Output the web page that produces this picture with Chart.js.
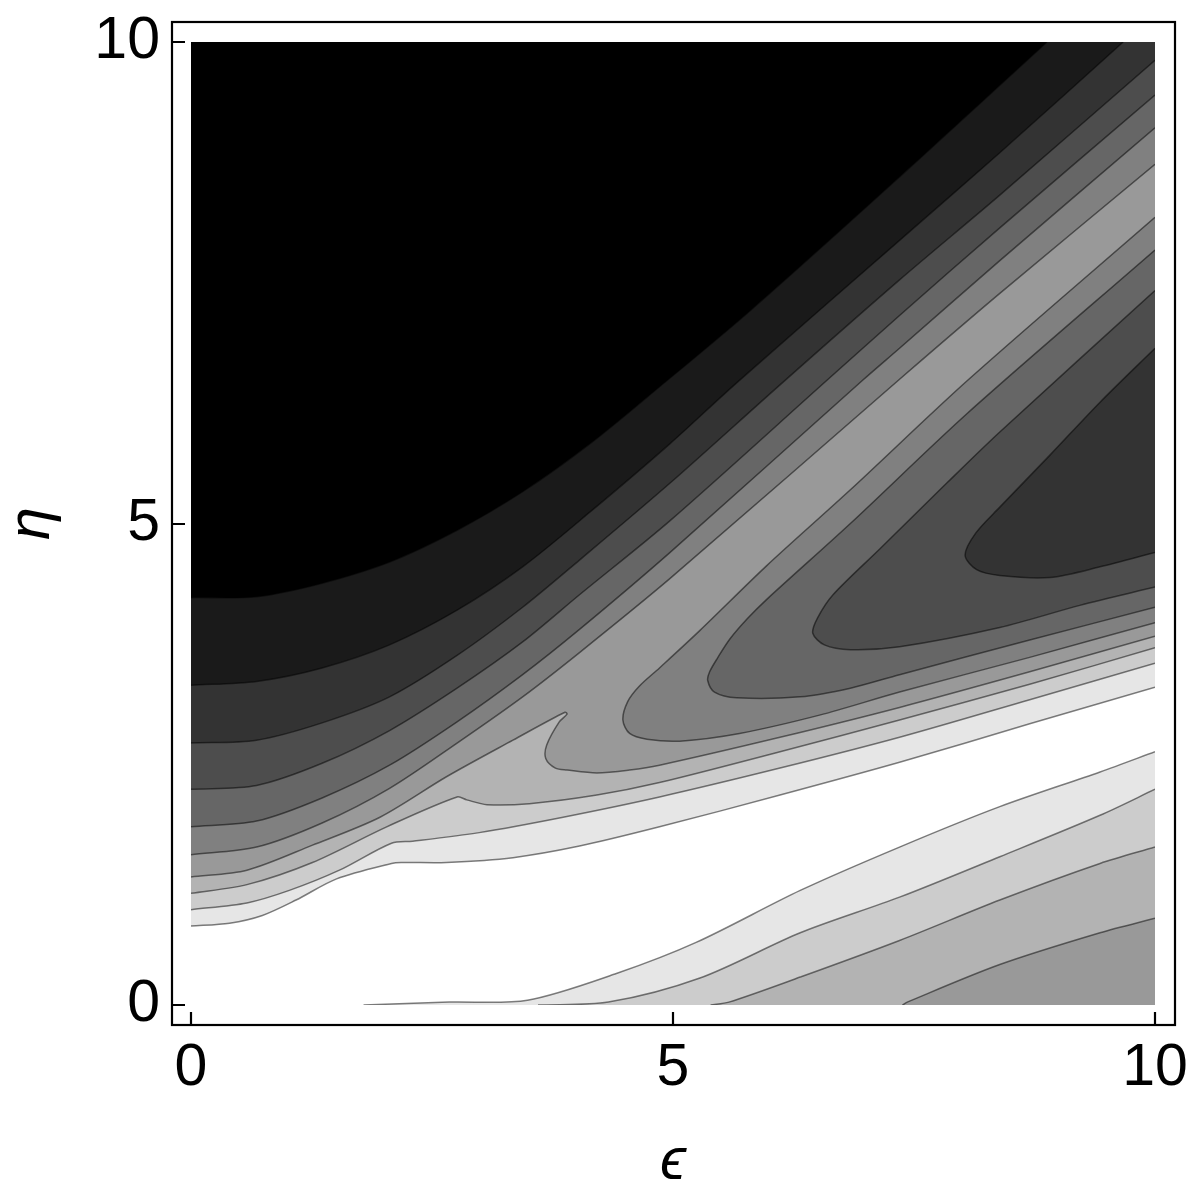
<!DOCTYPE html>
<html>
<head>
<meta charset="utf-8">
<script src="https://cdn.jsdelivr.net/npm/chart.js@4.4.1/dist/chart.umd.min.js"></script>
<style>
html,body{margin:0;padding:0;background:#fff;}
#wrap{width:1202px;height:1196px;}
</style>
</head>
<body>
<div id="wrap"><canvas id="c" width="1202" height="1196"></canvas></div>
<script>
// ---------- axis data ----------
const xTicks = [0, 5, 10];
const yTicks = [0, 5, 10];
const xTitle = 'ϵ';
const yTitle = 'η';
const xRange = [0, 10];
const yRange = [0, 10];

// ---------- contour lines (ε, η) ----------
// upper family: level k contour, region above/left of it has value > c_k
const L1 = [[0,0.82],[0.40,0.85],[0.74,0.93],[1.09,1.09],[1.51,1.31],[2.08,1.47],[2.18,1.48],[2.65,1.48],[3.34,1.53],[4.03,1.65],[4.86,1.85],[6.11,2.18],[7.35,2.52],[8.70,2.92],[10,3.30]];
const L2 = [[0,0.99],[0.58,1.06],[1.02,1.19],[1.54,1.40],[2.08,1.68],[2.30,1.70],[2.99,1.79],[3.86,1.95],[4.86,2.16],[6.11,2.46],[7.35,2.78],[8.70,3.17],[10,3.55]];
const L3 = [[0,1.16],[0.58,1.25],[1.26,1.48],[2.03,1.85],[2.76,2.16],[2.86,2.13],[3.07,2.08],[3.51,2.09],[4.21,2.18],[4.86,2.31],[6.11,2.63],[7.35,2.96],[8.70,3.33],[10,3.71]];
const L4 = [[0,1.33],[0.58,1.40],[1.26,1.66],[1.96,1.95],[2.65,2.37],[3.34,2.75],[3.88,3.04],[3.90,3.02],[3.82,2.94],[3.69,2.70],[3.68,2.56],[3.78,2.46],[3.90,2.44],[4.21,2.41],[4.55,2.44],[4.86,2.49],[6.11,2.78],[7.35,3.09],[8.70,3.46],[10,3.83]];
const L5 = [[0,1.56],[0.68,1.64],[1.36,1.89],[2.06,2.25],[2.76,2.72],[3.44,3.20],[4.03,3.66],[4.97,4.43],[7.41,6.55],[8.39,7.39],[10,8.73]];
const L6 = [[0,1.85],[0.68,1.91],[1.36,2.15],[2.06,2.49],[2.76,2.94],[3.44,3.43],[4.03,3.90],[4.97,4.70],[6.97,6.49],[7.35,6.82],[8.39,7.73],[10,9.11]];
const L7 = [[0,2.24],[0.68,2.28],[1.36,2.51],[2.06,2.85],[2.76,3.29],[3.44,3.77],[4.03,4.26],[4.97,5.03],[6.60,6.49],[7.35,7.16],[8.39,8.07],[10,9.45]];
const L8 = [[0,2.72],[0.68,2.75],[1.36,2.93],[2.06,3.20],[2.76,3.63],[3.44,4.13],[4.03,4.62],[4.97,5.42],[6.11,6.44],[7.35,7.53],[8.39,8.41],[10,9.81]];
const L9 = [[0,3.32],[0.68,3.36],[1.36,3.50],[2.06,3.74],[2.76,4.10],[3.44,4.55],[4.14,5.12],[4.97,5.83],[5.66,6.46],[7.35,7.94],[8.39,8.85],[9.67,10]];
const L10 = [[0,4.23],[0.68,4.24],[1.36,4.38],[2.06,4.60],[2.76,4.93],[3.44,5.33],[4.14,5.83],[4.86,6.42],[5.80,7.21],[7.35,8.60],[8.88,10]];

// lower-right family: region below the line has value > c_k
const B1 = [[1.79,0],[2.68,0.03],[3.49,0.05],[4.42,0.33],[5.24,0.65],[6.32,1.19],[7.35,1.64],[8.39,2.06],[9.43,2.42],[10,2.63]];
const B2 = [[3.60,0],[4.33,0.03],[5.28,0.28],[6.32,0.75],[7.35,1.12],[8.39,1.54],[9.43,1.97],[10,2.24]];
const B3 = [[5.39,0],[5.58,0.03],[6.32,0.29],[7.35,0.67],[8.39,1.09],[9.43,1.47],[10,1.64]];
const B4 = [[7.38,0],[7.43,0.03],[8.39,0.42],[9.43,0.75],[10,0.90]];

// right-side pockets (V shapes opening to the right): inside has value > c_k
const V5 = [[10,8.18],[8.06,6.49],[6.84,5.35],[5.97,4.56],[5.28,3.89],[4.86,3.50],[4.65,3.31],[4.53,3.15],[4.48,2.96],[4.55,2.82],[4.73,2.76],[5.07,2.74],[5.69,2.82],[6.52,3.01],[7.35,3.25],[8.70,3.61],[10,3.97]];
const V6 = [[10,7.84],[8.06,6.15],[6.84,5.00],[5.97,4.21],[5.77,4.01],[5.59,3.80],[5.46,3.60],[5.38,3.46],[5.36,3.37],[5.43,3.25],[5.66,3.19],[6.32,3.20],[6.84,3.29],[7.35,3.43],[8.70,3.79],[10,4.13]];
const V7 = [[10,7.42],[8.39,5.95],[7.84,5.42],[7.15,4.74],[6.66,4.26],[6.50,4.02],[6.45,3.86],[6.57,3.74],[6.84,3.69],[7.35,3.72],[8.39,3.92],[9.22,4.15],[10,4.34]];
const V8 = [[10,6.82],[9.43,6.26],[8.91,5.71],[8.39,5.17],[8.14,4.90],[8.03,4.67],[8.15,4.52],[8.39,4.46],[8.91,4.44],[9.43,4.55],[10,4.70]];

const upperLevels = [L1, L2, L3, L4, L5, L6, L7, L8, L9, L10];
const lowerLevels = [B1, B2, B3, B4];
const pocketLevels = [V5, V6, V7, V8];

// ---------- styles ----------
const bandColors = ['#ffffff','#e6e6e6','#cccccc','#b3b3b3','#999999','#808080','#666666','#4d4d4d','#333333','#1a1a1a','#000000'];
const lineColor = 'rgba(0,0,0,0.5)';
const NONE = 'rgba(0,0,0,0)';
const FONT = "'Liberation Sans', Arial, 'DejaVu Sans', sans-serif";

// ---------- build filled contour regions ----------
const EPS = 1e-6;
function inside(p){ return p[0]>=xRange[0]-EPS && p[0]<=xRange[1]+EPS && p[1]>=yRange[0]-EPS && p[1]<=yRange[1]+EPS; }
function onEdge(p){ return inside(p) && (Math.abs(p[0]-xRange[0])<EPS || Math.abs(p[0]-xRange[1])<EPS || Math.abs(p[1]-yRange[0])<EPS || Math.abs(p[1]-yRange[1])<EPS); }
function segVisible(a,b){ return inside(a) && inside(b) && !(onEdge(a) && onEdge(b)); }
function unit(a,b){ const dx=b[0]-a[0], dy=b[1]-a[1]; const d=Math.hypot(dx,dy)||1; return [dx/d, dy/d]; }

function buildPolygon(pts, kind){
  const n = pts.length;
  const u0 = unit(pts[1], pts[0]);
  const un = unit(pts[n-2], pts[n-1]);
  const e0 = [pts[0][0]+0.5*u0[0], pts[0][1]+0.5*u0[1]];
  const en = [pts[n-1][0]+0.5*un[0], pts[n-1][1]+0.5*un[1]];
  const poly = [e0, ...pts, en];
  if (kind === 'above') {
    if (pts[n-1][0] >= xRange[1]-EPS) poly.push([xRange[1]+1, yRange[1]+1]);
    poly.push([xRange[0]-1, yRange[1]+1], [xRange[0]-1, pts[0][1]]);
  } else if (kind === 'below') {
    poly.push([xRange[1]+1, yRange[0]-1], [e0[0]-0.5, yRange[0]-1]);
  }
  return poly;
}

const common = { tension: 0.3, capBezierPoints: false, pointRadius: 0, pointHoverRadius: 0, pointHitRadius: 0 };
const datasets = [];
function addRegion(pts, level, kind){
  const poly = buildPolygon(pts, kind);
  const data = poly.map(p => ({x:p[0], y:p[1]}));
  // filled band
  datasets.push(Object.assign({
    data, fill: 'shape', backgroundColor: bandColors[level],
    borderColor: NONE, borderWidth: 0, order: 100 - level
  }, common));
  // contour line on top
  datasets.push(Object.assign({
    data, fill: false, backgroundColor: NONE,
    borderColor: lineColor, borderWidth: 1.5, order: 0,
    segment: { borderColor: c => segVisible(poly[c.p0DataIndex], poly[c.p1DataIndex]) ? lineColor : NONE }
  }, common));
}
upperLevels.forEach((pts,i) => addRegion(pts, i+1, 'above'));
lowerLevels.forEach((pts,i) => addRegion(pts, i+1, 'below'));
pocketLevels.forEach((pts,i) => addRegion(pts, i+5, 'pocket'));

// ---------- frame + inward ticks ----------
const framePlugin = {
  id: 'frame',
  afterDraw(chart){
    const {ctx, chartArea:a, scales} = chart;
    const L = a.left - 19, T = a.top - 20, R = a.right + 20, B = a.bottom + 20;
    ctx.save();
    ctx.strokeStyle = '#000';
    ctx.lineWidth = 2.2;
    ctx.strokeRect(L, T, R-L, B-T);
    ctx.beginPath();
    yTicks.forEach(v => { const py = Math.round(scales.y.getPixelForValue(v)); ctx.moveTo(L, py); ctx.lineTo(L+13, py); });
    xTicks.forEach(v => { const px = Math.round(scales.x.getPixelForValue(v)); ctx.moveTo(px, B); ctx.lineTo(px, B-13); });
    ctx.stroke();
    ctx.restore();
  }
};

new Chart(document.getElementById('c'), {
  type: 'line',
  data: { datasets },
  options: {
    responsive: false,
    animation: false,
    devicePixelRatio: 1,
    events: [],
    layout: { padding: { left: 0, top: 42, right: 47, bottom: 0 } },
    plugins: { legend: { display: false }, tooltip: { enabled: false } },
    scales: {
      x: {
        type: 'linear', position: 'bottom', min: xRange[0], max: xRange[1],
        grid: { display: false, drawTicks: true, tickLength: 28 }, border: { display: false },
        ticks: { font: { family: FONT, size: 59, lineHeight: 1.2 }, color: '#000', padding: 0, maxRotation: 0, autoSkip: false },
        afterBuildTicks: s => { s.ticks = xTicks.map(v => ({ value: v })); },
        afterFit: s => { s.height = 191; },
        title: { display: true, text: xTitle, color: '#000', font: { family: FONT, size: 59, style: 'italic', lineHeight: 1 }, padding: { top: 0, bottom: 4 } }
      },
      y: {
        type: 'linear', position: 'left', min: yRange[0], max: yRange[1],
        grid: { display: false, drawTicks: true, tickLength: 31 }, border: { display: false },
        ticks: { font: { family: FONT, size: 59, lineHeight: 1.0 }, color: '#000', padding: 0, autoSkip: false },
        afterBuildTicks: s => { s.ticks = yTicks.map(v => ({ value: v })); },
        afterFit: s => { s.width = 191; },
        title: { display: true, text: yTitle, color: '#000', font: { family: FONT, size: 59, style: 'italic', lineHeight: 1 }, padding: { top: 3, bottom: 0 } }
      }
    }
  },
  plugins: [framePlugin]
});
</script>
</body>
</html>
